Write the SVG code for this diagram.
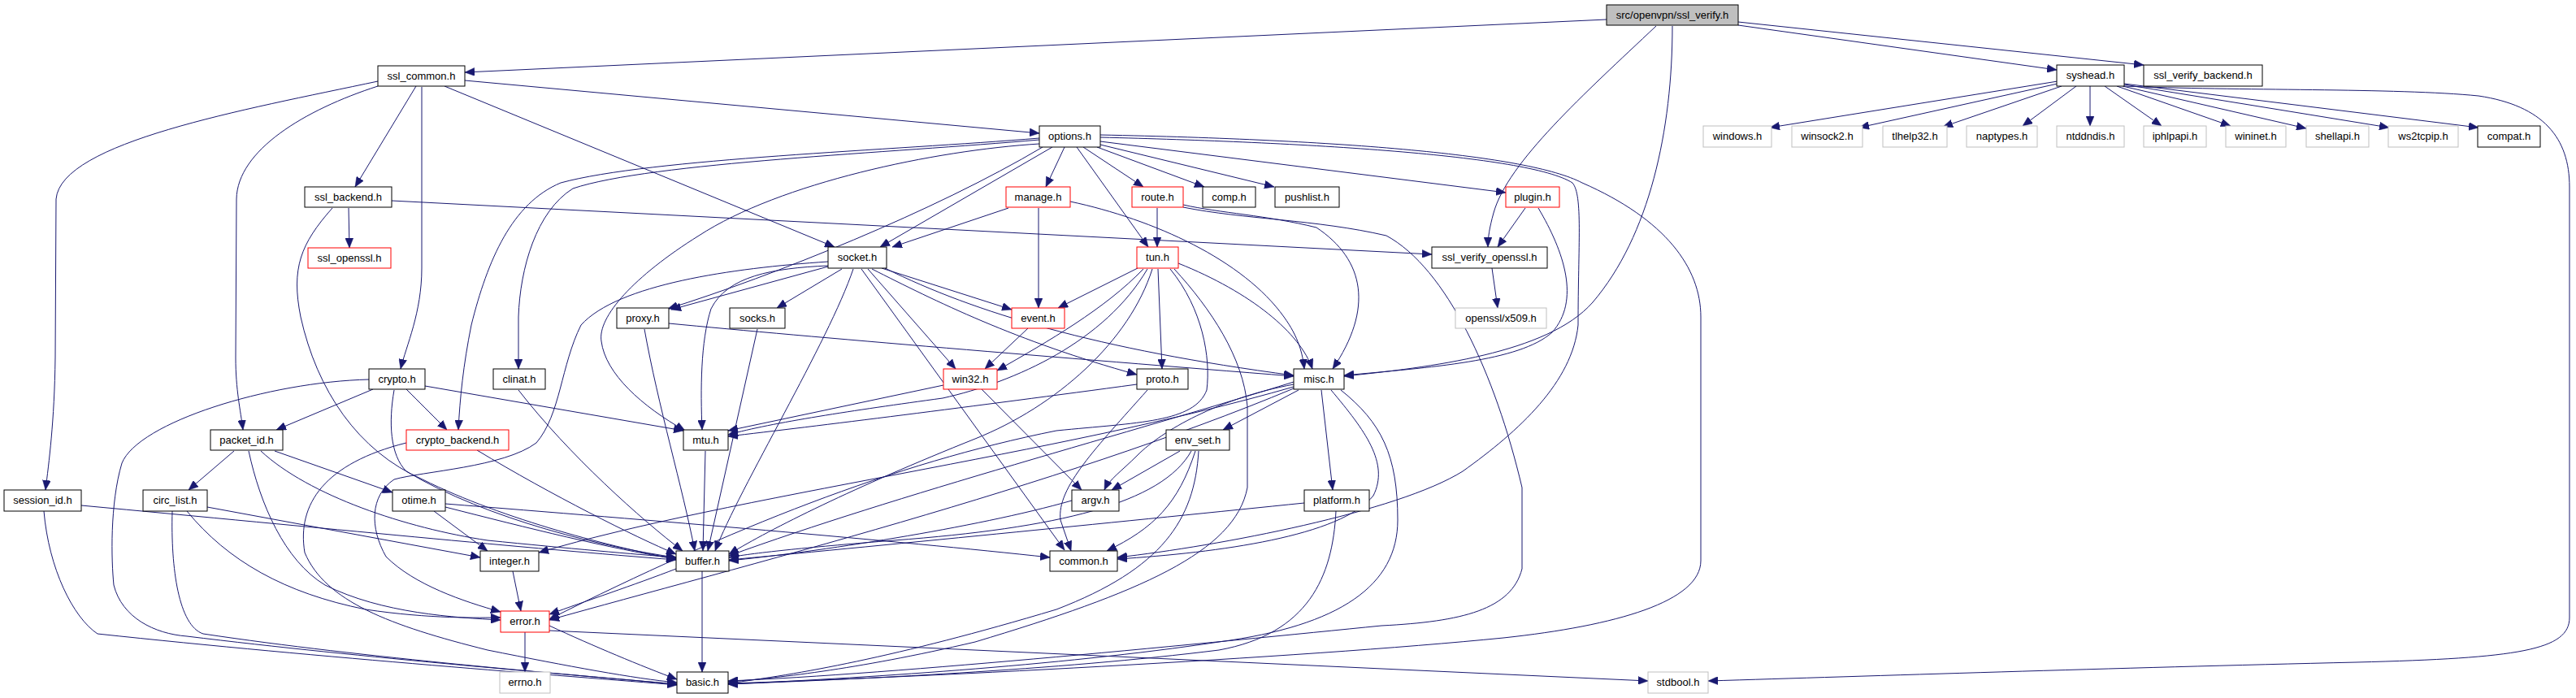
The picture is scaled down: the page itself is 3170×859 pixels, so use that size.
<svg xmlns="http://www.w3.org/2000/svg" width="3170" height="859" viewBox="0 0 3170 859">
<style>
.bg{fill:#ffffff}
.nd rect{fill:#ffffff;stroke:#000000;stroke-width:1}
.nd.red rect{stroke:#ff0000}
.nd.gry rect{stroke:#bfbfbf}
.nd.root rect{fill:#bfbfbf}
.nd text{font-family:"Liberation Sans",Arial,sans-serif;font-size:13px;fill:#000000;text-anchor:middle}
#edges path{fill:none;stroke:#191970;stroke-width:1;marker-end:url(#ah)}
</style>
<defs>
<marker id="ah" viewBox="0 0 12 10" refX="12" refY="5" markerWidth="12" markerHeight="10" markerUnits="userSpaceOnUse" orient="auto">
<path d="M0,0L12,5L0,10z" fill="#191970" stroke="#191970" stroke-width="0.5"/>
</marker>
</defs>
<rect class="bg" x="0" y="0" width="3170" height="859"/>
<g id="edges">
<path d="M1977,24 L572,89"/>
<path d="M2139,31 L2531,86"/>
<path d="M2139,27 L2638,80"/>
<path d="M2038,32 C1950,115 1855,200 1838,262 C1833,280 1831,292 1831,304"/>
<path d="M2058,32 C2058,160 2030,290 1960,372 C1905,435 1760,452 1654,463"/>
<path d="M465,100 C300,135 75,175 69,245 L68,440 C67,520 60,570 56,603"/>
<path d="M465,106 C375,135 292,185 291,245 L290,440 C290,480 296,505 299,529"/>
<path d="M512,106 L437,230"/>
<path d="M519,107 L519,330 C519,385 500,425 493,454"/>
<path d="M572,99 L1279,164"/>
<path d="M547,106 L1027,304"/>
<path d="M429,256 L430,305"/>
<path d="M482,247 L1762,313"/>
<path d="M409,256 C370,300 358,330 370,390 C390,480 440,555 520,590 C620,640 760,675 832,688"/>
<path d="M1310,181 L1287,230"/>
<path d="M1333,181 L1407,230"/>
<path d="M1325,181 L1413,304"/>
<path d="M1350,181 L1482,230"/>
<path d="M1354,178 L1568,230"/>
<path d="M1354,174 L1853,237"/>
<path d="M1295,181 L1083,304"/>
<path d="M1283,181 C1150,260 950,340 822,380"/>
<path d="M1279,177 C1150,185 960,225 860,290 C780,340 735,390 740,420 C745,460 790,500 843,530"/>
<path d="M1279,170 C1100,185 800,195 690,225 C630,250 600,320 580,400 C570,450 566,490 564,529"/>
<path d="M1279,172 C1100,188 800,200 705,232 C660,260 640,330 638,390 L638,454"/>
<path d="M1354,169 C1600,175 1880,190 1935,225 C1948,240 1942,300 1942,400 C1935,470 1870,530 1800,580 C1720,630 1500,672 1375,686"/>
<path d="M1354,166 C1650,172 1880,190 1947,225 C2050,270 2093,330 2093,390 L2093,690 C2093,740 1990,770 1850,785 C1600,810 1100,835 896,841"/>
<path d="M1241,256 L1098,304"/>
<path d="M1278,256 L1278,379"/>
<path d="M1317,248 C1420,270 1530,320 1580,390 C1598,415 1603,435 1605,454"/>
<path d="M1424,256 L1424,304"/>
<path d="M1456,252 C1500,262 1560,265 1620,280 C1680,320 1690,380 1640,454"/>
<path d="M1456,255 C1530,270 1620,270 1706,290 C1780,330 1840,460 1873,600 L1873,700 C1860,750 1800,765 1700,770 C1500,790 1100,830 896,838"/>
<path d="M1877,256 L1843,304"/>
<path d="M1893,256 C1925,310 1945,370 1910,409 C1870,445 1760,452 1654,462"/>
<path d="M1019,328 L826,381"/>
<path d="M1036,331 L956,379"/>
<path d="M1050,331 C1020,420 910,600 880,678"/>
<path d="M1060,331 L1310,677"/>
<path d="M1068,331 L1176,454"/>
<path d="M1085,330 L1245,381"/>
<path d="M1089,330 C1200,385 1350,430 1592,462"/>
<path d="M1073,331 C1150,370 1250,420 1399,461"/>
<path d="M1019,327 C950,330 895,340 875,380 C862,420 862,480 864,529"/>
<path d="M1019,322 C900,330 760,350 715,400 C690,450 690,510 660,545 C620,575 520,580 485,590 C455,610 455,650 475,685 C510,720 570,740 616,753"/>
<path d="M1400,330 L1302,379"/>
<path d="M1407,331 C1360,380 1290,420 1227,456"/>
<path d="M1425,331 L1430,454"/>
<path d="M1450,324 C1540,360 1600,410 1615,454"/>
<path d="M1412,331 C1360,420 1250,470 1160,490 C1050,505 950,520 896,535"/>
<path d="M1418,331 C1390,420 1300,500 1200,540 C1050,600 950,650 897,682"/>
<path d="M1440,331 C1480,380 1490,440 1485,480 C1470,520 1400,520 1300,530 C1100,570 900,650 676,762"/>
<path d="M1445,331 C1490,380 1530,440 1535,500 L1535,600 C1520,680 1400,730 1200,790 C1050,825 950,835 896,839"/>
<path d="M1399,473 C1200,500 1000,525 896,537"/>
<path d="M1412,480 C1350,550 1300,600 1305,640 L1318,678"/>
<path d="M1265,404 L1212,454"/>
<path d="M1161,474 L896,530"/>
<path d="M1208,479 L1331,603"/>
<path d="M1598,480 L1505,529"/>
<path d="M1626,480 L1640,603"/>
<path d="M1638,480 C1680,530 1710,570 1690,610 C1650,660 1500,680 1375,688"/>
<path d="M1650,480 C1700,520 1720,560 1720,640 C1720,720 1650,770 1500,790 C1300,820 1050,835 896,842"/>
<path d="M1592,473 C1500,490 1430,530 1400,560 C1380,580 1365,590 1359,603"/>
<path d="M1592,470 C1400,530 1100,610 897,684"/>
<path d="M1592,476 C1300,560 900,610 663,680"/>
<path d="M1592,478 C1300,600 900,700 676,763"/>
<path d="M1452,555 L1368,603"/>
<path d="M1466,555 C1430,620 1300,650 1100,665 C1000,673 930,680 897,686"/>
<path d="M1471,555 C1450,620 1420,650 1362,678"/>
<path d="M1475,555 C1470,640 1430,700 1300,750 C1100,810 980,830 896,841"/>
<path d="M1605,619 C1400,640 1100,670 897,689"/>
<path d="M1644,629 C1640,710 1610,780 1500,800 C1300,825 1050,836 896,842"/>
<path d="M1319,616 C1200,650 1000,680 897,690"/>
<path d="M868,555 L865,678"/>
<path d="M793,405 C810,500 840,600 855,678"/>
<path d="M823,398 C1000,415 1300,440 1592,463"/>
<path d="M932,405 L871,678"/>
<path d="M638,480 C700,560 790,640 840,678"/>
<path d="M459,479 L340,529"/>
<path d="M500,479 L550,529"/>
<path d="M523,475 L841,530"/>
<path d="M454,467 C330,470 170,520 150,570 C135,620 137,690 140,720 C150,760 190,780 230,783 C450,810 700,830 833,842"/>
<path d="M485,480 C478,520 480,560 500,580 C600,640 750,675 832,686"/>
<path d="M587,554 C680,610 780,660 832,682"/>
<path d="M500,545 C400,570 365,620 375,680 C400,740 480,770 600,800 C700,820 780,835 833,840"/>
<path d="M288,555 L232,603"/>
<path d="M338,555 L483,606"/>
<path d="M321,555 C380,610 500,650 600,665 C700,675 780,682 832,686"/>
<path d="M306,555 C320,620 350,690 400,720 C470,755 560,760 616,763"/>
<path d="M255,624 L591,686"/>
<path d="M230,629 C280,690 350,730 450,750 C530,762 590,760 616,760"/>
<path d="M212,629 C210,700 220,770 250,780 C450,810 700,830 833,842"/>
<path d="M548,620 C800,640 1100,665 1292,686"/>
<path d="M534,629 L600,678"/>
<path d="M548,624 C650,650 750,675 832,688"/>
<path d="M100,622 C400,650 650,675 832,689"/>
<path d="M54,629 C60,700 90,760 120,780 C400,810 700,832 833,843"/>
<path d="M631,703 L641,752"/>
<path d="M864,703 L864,827"/>
<path d="M832,700 C780,720 720,740 676,756"/>
<path d="M646,778 L646,827"/>
<path d="M676,770 C730,795 790,820 833,836"/>
<path d="M676,776 L2028,838"/>
<path d="M2532,100 L2178,157"/>
<path d="M2532,103 L2288,157"/>
<path d="M2537,106 L2391,156"/>
<path d="M2555,106 L2489,155"/>
<path d="M2572,106 L2572,155"/>
<path d="M2590,106 L2660,155"/>
<path d="M2605,106 L2745,155"/>
<path d="M2612,106 L2838,158"/>
<path d="M2614,104 L2940,157"/>
<path d="M2614,103 L3050,157"/>
<path d="M2614,106 C2750,112 2950,108 3050,118 C3130,130 3162,170 3162,230 L3162,760 C3162,800 3100,810 2900,815 C2600,822 2300,832 2102,838"/>
<path d="M1836,330 L1843,379"/>
</g>
<g id="n-ssl_verify" class="nd root"><rect x="1977" y="6" width="162" height="25"/><text x="2058" y="23">src/openvpn/ssl_verify.h</text></g>
<g id="n-ssl_common" class="nd"><rect x="465" y="81" width="107" height="25"/><text x="518.5" y="98">ssl_common.h</text></g>
<g id="n-syshead" class="nd"><rect x="2531" y="80" width="83" height="26"/><text x="2572.5" y="97">syshead.h</text></g>
<g id="n-ssl_verify_backend" class="nd"><rect x="2638" y="80" width="146" height="26"/><text x="2711" y="97">ssl_verify_backend.h</text></g>
<g id="n-options" class="nd"><rect x="1279" y="155" width="75" height="26"/><text x="1316.5" y="172">options.h</text></g>
<g id="n-windows" class="nd gry"><rect x="2096" y="155" width="84" height="26"/><text x="2138" y="172">windows.h</text></g>
<g id="n-winsock2" class="nd gry"><rect x="2205" y="155" width="87" height="26"/><text x="2248.5" y="172">winsock2.h</text></g>
<g id="n-tlhelp32" class="nd gry"><rect x="2317" y="155" width="79" height="26"/><text x="2356.5" y="172">tlhelp32.h</text></g>
<g id="n-naptypes" class="nd gry"><rect x="2420" y="155" width="87" height="26"/><text x="2463.5" y="172">naptypes.h</text></g>
<g id="n-ntddndis" class="nd gry"><rect x="2531" y="155" width="83" height="26"/><text x="2572.5" y="172">ntddndis.h</text></g>
<g id="n-iphlpapi" class="nd gry"><rect x="2638" y="155" width="77" height="26"/><text x="2676.5" y="172">iphlpapi.h</text></g>
<g id="n-wininet" class="nd gry"><rect x="2739" y="155" width="74" height="26"/><text x="2776" y="172">wininet.h</text></g>
<g id="n-shellapi" class="nd gry"><rect x="2838" y="155" width="77" height="26"/><text x="2876.5" y="172">shellapi.h</text></g>
<g id="n-ws2tcpip" class="nd gry"><rect x="2939" y="155" width="86" height="26"/><text x="2982" y="172">ws2tcpip.h</text></g>
<g id="n-compat" class="nd"><rect x="3049" y="155" width="77" height="26"/><text x="3087.5" y="172">compat.h</text></g>
<g id="n-ssl_backend" class="nd"><rect x="375" y="230" width="107" height="25"/><text x="428.5" y="247">ssl_backend.h</text></g>
<g id="n-manage" class="nd red"><rect x="1238" y="230" width="79" height="25"/><text x="1277.5" y="247">manage.h</text></g>
<g id="n-route" class="nd red"><rect x="1393" y="230" width="63" height="25"/><text x="1424.5" y="247">route.h</text></g>
<g id="n-comp" class="nd"><rect x="1480" y="230" width="65" height="25"/><text x="1512.5" y="247">comp.h</text></g>
<g id="n-pushlist" class="nd"><rect x="1569" y="230" width="79" height="25"/><text x="1608.5" y="247">pushlist.h</text></g>
<g id="n-plugin" class="nd red"><rect x="1853" y="230" width="66" height="25"/><text x="1886" y="247">plugin.h</text></g>
<g id="n-ssl_openssl" class="nd red"><rect x="379" y="305" width="102" height="25"/><text x="430" y="322">ssl_openssl.h</text></g>
<g id="n-socket" class="nd"><rect x="1019" y="304" width="72" height="26"/><text x="1055" y="321">socket.h</text></g>
<g id="n-tun" class="nd red"><rect x="1399" y="304" width="51" height="26"/><text x="1424.5" y="321">tun.h</text></g>
<g id="n-ssl_verify_openssl" class="nd"><rect x="1762" y="304" width="142" height="26"/><text x="1833" y="321">ssl_verify_openssl.h</text></g>
<g id="n-proxy" class="nd"><rect x="759" y="379" width="64" height="25"/><text x="791" y="396">proxy.h</text></g>
<g id="n-socks" class="nd"><rect x="898" y="379" width="68" height="25"/><text x="932" y="396">socks.h</text></g>
<g id="n-event" class="nd red"><rect x="1245" y="379" width="65" height="25"/><text x="1277.5" y="396">event.h</text></g>
<g id="n-x509" class="nd gry"><rect x="1791" y="379" width="112" height="25"/><text x="1847" y="396">openssl/x509.h</text></g>
<g id="n-crypto" class="nd"><rect x="454" y="454" width="69" height="25"/><text x="488.5" y="471">crypto.h</text></g>
<g id="n-clinat" class="nd"><rect x="607" y="454" width="64" height="25"/><text x="639" y="471">clinat.h</text></g>
<g id="n-win32" class="nd red"><rect x="1161" y="454" width="66" height="25"/><text x="1194" y="471">win32.h</text></g>
<g id="n-proto" class="nd"><rect x="1399" y="454" width="63" height="25"/><text x="1430.5" y="471">proto.h</text></g>
<g id="n-misc" class="nd"><rect x="1592" y="454" width="62" height="25"/><text x="1623" y="471">misc.h</text></g>
<g id="n-packet_id" class="nd"><rect x="259" y="529" width="89" height="25"/><text x="303.5" y="546">packet_id.h</text></g>
<g id="n-crypto_backend" class="nd red"><rect x="500" y="529" width="126" height="25"/><text x="563" y="546">crypto_backend.h</text></g>
<g id="n-mtu" class="nd"><rect x="841" y="529" width="55" height="25"/><text x="868.5" y="546">mtu.h</text></g>
<g id="n-env_set" class="nd"><rect x="1435" y="529" width="78" height="25"/><text x="1474" y="546">env_set.h</text></g>
<g id="n-session_id" class="nd"><rect x="5" y="603" width="95" height="26"/><text x="52.5" y="620">session_id.h</text></g>
<g id="n-circ_list" class="nd"><rect x="176" y="603" width="79" height="26"/><text x="215.5" y="620">circ_list.h</text></g>
<g id="n-otime" class="nd"><rect x="483" y="603" width="65" height="26"/><text x="515.5" y="620">otime.h</text></g>
<g id="n-argv" class="nd"><rect x="1319" y="603" width="58" height="26"/><text x="1348" y="620">argv.h</text></g>
<g id="n-platform" class="nd"><rect x="1605" y="603" width="80" height="26"/><text x="1645" y="620">platform.h</text></g>
<g id="n-integer" class="nd"><rect x="591" y="678" width="72" height="25"/><text x="627" y="695">integer.h</text></g>
<g id="n-buffer" class="nd"><rect x="832" y="678" width="65" height="25"/><text x="864.5" y="695">buffer.h</text></g>
<g id="n-common" class="nd"><rect x="1292" y="678" width="83" height="25"/><text x="1333.5" y="695">common.h</text></g>
<g id="n-error" class="nd red"><rect x="616" y="752" width="60" height="26"/><text x="646" y="769">error.h</text></g>
<g id="n-errno" class="nd gry"><rect x="615" y="827" width="62" height="26"/><text x="646" y="844">errno.h</text></g>
<g id="n-basic" class="nd"><rect x="833" y="827" width="63" height="26"/><text x="864.5" y="844">basic.h</text></g>
<g id="n-stdbool" class="nd gry"><rect x="2028" y="827" width="74" height="26"/><text x="2065" y="844">stdbool.h</text></g>
</svg>
